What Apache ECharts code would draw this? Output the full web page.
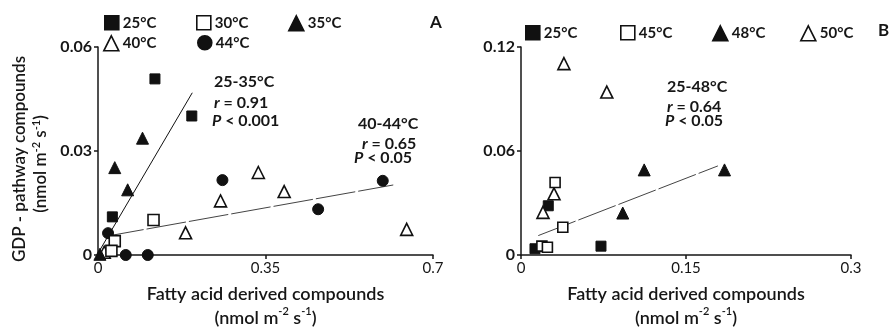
<!DOCTYPE html>
<html>
<head>
<meta charset="utf-8">
<script src="https://cdn.jsdelivr.net/npm/echarts@6/dist/echarts.min.js"></script>
<style>
  html, body { margin: 0; padding: 0; background: #fff; }
  #chart { width: 892px; height: 332px; }
</style>
</head>
<body>
<div id="chart"></div>
<script>
// Panel A: emissions at 25–44 °C
const a25 = [[0.119, 0.0508], [0.196, 0.0401], [0.030, 0.0110]];
const a30 = [[0.116, 0.0101], [0.035, 0.0040], [0.028, 0.0012]];
const a35 = [[0.093, 0.0337], [0.035, 0.0252], [0.062, 0.0188], [0.004, 0.0002]];
const a40 = [[0.335, 0.0238], [0.389, 0.0183], [0.256, 0.0156], [0.183, 0.0064], [0.645, 0.0074], [0.013, 0.0008]];
const a44 = [[0.260, 0.0216], [0.595, 0.0214], [0.460, 0.0132], [0.021, 0.0063], [0.058, 0.0000], [0.104, 0.0000]];
const aFitLow = [[0.0, 0.0005], [0.197, 0.0468]];   // 25-35 °C regression
const aFitHigh = [[0.013, 0.0053], [0.617, 0.0202]]; // 40-44 °C regression

// Panel B: emissions at 25–50 °C
const b25 = [[0.0127, 0.0036], [0.0727, 0.0051], [0.0248, 0.0284]];
const b45 = [[0.031, 0.0418], [0.038, 0.0160], [0.019, 0.0051], [0.024, 0.0045]];
const b48 = [[0.112, 0.0491], [0.185, 0.0491], [0.0925, 0.0242]];
const b50 = [[0.039, 0.1104], [0.078, 0.0940], [0.030, 0.0353], [0.020, 0.0246]];
const bFit = [[0.0157, 0.0112], [0.179, 0.0514]];     // 25-48 °C regression

const aXTicks = [0, 0.35, 0.7];
const aYTicks = [0, 0.03, 0.06];
const bXTicks = [0, 0.15, 0.3];
const bYTicks = [0, 0.06, 0.12];

const FONT = 'Lato, "Open Sans", sans-serif';
const INK = '#161616';

const filled = { color: '#111', borderColor: '#111', borderWidth: 1, opacity: 1 };
const hollow = { color: '#fff', borderColor: '#111', borderWidth: 1.6, opacity: 1 };

function scatter(name, data, symbol, size, style, gi) {
  return {
    type: 'scatter', name, data, symbol, symbolSize: size,
    xAxisIndex: gi, yAxisIndex: gi, itemStyle: style, z: 3
  };
}
function fit(data, gi, color, dash) {
  return {
    type: 'line', data, xAxisIndex: gi, yAxisIndex: gi, symbol: 'none',
    silent: true, z: 2,
    lineStyle: { color, width: 1, type: dash }
  };
}

const richUnits = (size, lh) => ({
  t: { fontFamily: FONT, fontSize: size, fontWeight: 600, fill: INK, color: INK, lineHeight: lh },
  s: { fontFamily: FONT, fontSize: 11, fontWeight: 600, fill: INK, color: INK, verticalAlign: 'top', lineHeight: lh, padding: [0, 0, 6, 0] }
});
function nameStyle(size, lh) {
  return { fontFamily: FONT, fontSize: size, fontWeight: 600, color: INK, lineHeight: lh, rich: richUnits(size, lh) };
}
const unitLine = '{t|(nmol m}{s|-2}{t| s}{s|-1}{t|)}';

function xAxis(gi, max, interval) {
  return {
    type: 'value', gridIndex: gi, min: 0, max, interval,
    name: '{t|Fatty acid derived compounds}\n' + unitLine,
    nameLocation: 'middle', nameGap: 27,
    nameTextStyle: nameStyle(18, 24),
    axisLine: { lineStyle: { color: INK, width: 1.5 } },
    axisTick: { show: true, length: 4, lineStyle: { color: INK, width: 1.5 } },
    axisLabel: { fontFamily: FONT, fontSize: 15, color: INK, margin: 6,
      alignMinLabel: 'center', alignMaxLabel: 'center',
      formatter: v => String(v) },
    splitLine: { show: false }
  };
}
function yAxis(gi, max, interval) {
  return {
    type: 'value', gridIndex: gi, min: 0, max, interval,
    axisLine: { show: true, lineStyle: { color: INK, width: 1.5 } },
    axisTick: { show: true, length: 4, lineStyle: { color: INK, width: 1.5 } },
    axisLabel: { fontFamily: FONT, fontSize: 16, fontWeight: 'bold', color: INK, margin: 6,
      formatter: v => String(v) },
    splitLine: { show: false }
  };
}

function legendAt(name, left, top, size) {
  return {
    data: [name], left, top, padding: 0, itemGap: 0,
    itemWidth: size, itemHeight: size, itemStyle: { borderWidth: 1.6, opacity: 1 },
    textStyle: { fontFamily: FONT, fontSize: 15, fontWeight: 'bold', color: INK, padding: [0, 0, 0, -1] },
    selectedMode: false
  };
}

function note(text, x, y) {
  return {
    type: 'text', left: x, top: y, z: 10,
    style: {
      text, fill: INK, font: 'bold 16px ' + FONT,
      rich: { i: { fontStyle: 'italic', fontWeight: 'bold', fontSize: 16, fontFamily: FONT, fill: INK } }
    }
  };
}

// Vertical y-axis title of panel A (two rotated lines)
function yTitleLine(text, x, y) {
  return {
    type: 'text', x, y, rotation: Math.PI / 2, z: 10,
    style: {
      text, align: 'center', verticalAlign: 'middle', fill: INK,
      font: '600 17px ' + FONT, rich: richUnits(17, 20)
    }
  };
}

const chart = echarts.init(document.getElementById('chart'), null, { renderer: 'canvas' });
chart.setOption({
  backgroundColor: '#fff',
  animation: false,
  grid: [
    { left: 98, width: 335, top: 47, height: 208, outerBoundsMode: 'none', containLabel: false },
    { left: 521, width: 330, top: 47, height: 208, outerBoundsMode: 'none', containLabel: false }
  ],
  xAxis: [xAxis(0, aXTicks[2], aXTicks[1]), xAxis(1, bXTicks[2], bXTicks[1])],
  yAxis: [yAxis(0, aYTicks[2], aYTicks[1]), yAxis(1, bYTicks[2], bYTicks[1])],
  legend: [
    legendAt('25°C', 104, 15, 14),
    legendAt('30°C', 196, 15, 14),
    legendAt('35°C', 288, 15, 15),
    legendAt('40°C', 103, 35, 15),
    legendAt('44°C', 197, 35, 14),
    legendAt('45°C', 620, 25, 14),
    legendAt('48°C', 712, 25, 15),
    legendAt('50°C', 800, 25, 15),
    legendAt('25°C', 525, 25, 14)
  ],
  graphic: [
    yTitleLine('{t|GDP - pathway compounds}', 20, 159),
    yTitleLine(unitLine, 41, 164),
    { type: 'text', left: 430, top: 14, style: { text: 'A', fill: INK, font: 'bold 17px ' + FONT } },
    { type: 'text', left: 878, top: 22, style: { text: 'B', fill: INK, font: 'bold 17px ' + FONT } },
    note('25-35°C', 214, 74),
    note('{i|r} = 0.91', 214, 95),
    note('{i|P} < 0.001', 212, 113),
    note('40-44°C', 358, 116),
    note('{i|r} = 0.65', 362, 136),
    note('{i|P} < 0.05', 354, 150),
    note('25-48°C', 667, 79),
    note('{i|r} = 0.64', 667, 99),
    note('{i|P} < 0.05', 665, 113)
  ],
  series: [
    fit(aFitLow, 0, '#111', 'solid'),
    fit(aFitHigh, 0, '#444', [40, 3]),
    scatter('40°C', a40, 'triangle', 12, hollow, 0),
    scatter('44°C', a44, 'circle', 11, filled, 0),
    scatter('30°C', a30, 'rect', 11, hollow, 0),
    scatter('35°C', a35, 'triangle', 12, filled, 0),
    scatter('25°C', a25, 'rect', 10, filled, 0),
    fit(bFit, 1, '#444', [40, 3]),
    scatter('25°C', b25, 'rect', 10, filled, 1),
    scatter('50°C', b50, 'triangle', 12, hollow, 1),
    scatter('45°C', b45, 'rect', 10, hollow, 1),
    scatter('48°C', b48, 'triangle', 12, filled, 1)
  ]
});
</script>
</body>
</html>
